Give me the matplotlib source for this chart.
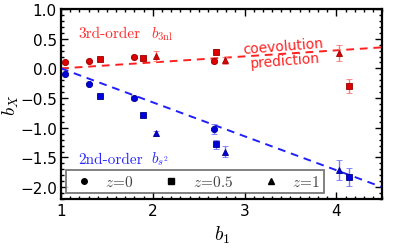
import matplotlib
matplotlib.use("Agg")
import matplotlib.pyplot as plt
from matplotlib.lines import Line2D
from matplotlib.ticker import MultipleLocator

plt.rcParams['mathtext.fontset'] = 'cm'

# --- data ---
# third-order bias b_3nl
r0_b1 = [1.04, 1.30, 1.79, 2.67]
r0_y = [0.10, 0.13, 0.20, 0.12]
r0_e = [0.02, 0.02, 0.02, 0.03]
r05_b1 = [1.42, 1.89, 2.69, 4.14]
r05_y = [0.16, 0.18, 0.28, -0.29]
r05_e = [0.02, 0.03, 0.04, 0.12]
r1_b1 = [2.03, 2.79, 4.03]
r1_y = [0.21, 0.14, 0.26]
r1_e = [0.08, 0.06, 0.14]
# second-order tidal bias b_s2
b0_b1 = [1.04, 1.30, 1.79, 2.67]
b0_y = [-0.09, -0.26, -0.50, -1.02]
b0_e = [0.02, 0.02, 0.03, 0.08]
b05_b1 = [1.42, 1.89, 2.69, 4.14]
b05_y = [-0.46, -0.78, -1.28, -1.83]
b05_e = [0.02, 0.03, 0.07, 0.15]
b1_b1 = [2.03, 2.79, 4.03]
b1_y = [-1.09, -1.40, -1.71]
b1_e = [0.04, 0.09, 0.17]
# coevolution prediction lines (endpoints)
line_b1 = [1.0, 4.5]
pred_b3nl = [0.0, 0.355]
pred_bs2 = [0.0, -2.0]

legend_labels = [r'$z\!=\!0$', r'$z\!=\!0.5$', r'$z\!=\!1$']

fig = plt.figure(figsize=(3.99, 2.51), dpi=100)
ax = fig.add_axes([0.153, 0.203, 0.805, 0.757])

red_face, red_edge, red_err = '#dd0000', '#990000', '#ff7777'
blue_face, blue_edge, blue_err = '#0000dd', '#000088', '#7777ff'

ax.plot(line_b1, pred_b3nl, ls=(0, (4, 3)), color='#ff2020', lw=1.4, zorder=2)
ax.plot(line_b1, pred_bs2, ls=(0, (4, 3)), color='#2020ff', lw=1.4, zorder=2)

for xs, ys, es, m, ms in [(r0_b1, r0_y, r0_e, 'o', 4.5), (r05_b1, r05_y, r05_e, 's', 4.5), (r1_b1, r1_y, r1_e, '^', 4.5)]:
    ax.errorbar(xs, ys, yerr=es, fmt=m, ms=ms, mfc=red_face, mec=red_edge, mew=0.6,
                ecolor=red_err, elinewidth=1.0, capsize=2, capthick=1.0, zorder=3)
for xs, ys, es, m, ms in [(b0_b1, b0_y, b0_e, 'o', 4.5), (b05_b1, b05_y, b05_e, 's', 4.5), (b1_b1, b1_y, b1_e, '^', 4.5)]:
    ax.errorbar(xs, ys, yerr=es, fmt=m, ms=ms, mfc=blue_face, mec=blue_edge, mew=0.6,
                ecolor=blue_err, elinewidth=1.0, capsize=2, capthick=1.0, zorder=3)

ax.set_xlim(1.0, 4.5)
ax.set_ylim(-2.2, 1.0)
ax.xaxis.set_major_locator(MultipleLocator(1))
ax.xaxis.set_minor_locator(MultipleLocator(0.1))
ax.yaxis.set_major_locator(MultipleLocator(0.5))
ax.yaxis.set_minor_locator(MultipleLocator(0.1))
ax.tick_params(which='both', direction='in', top=True, right=True, width=1.0)
ax.tick_params(which='major', length=5, labelsize=11, pad=3)
ax.tick_params(which='minor', length=2.5)
for s in ax.spines.values():
    s.set_linewidth(1.6)

ax.set_xlabel(r'$b_1$', fontsize=14, labelpad=4)
ax.set_ylabel(r'$b_X$', fontsize=13.5)
ax.yaxis.set_label_coords(-0.125, 0.5)

ax.text(1.185, 0.59, '3rd-order', family='cmr10', fontsize=11, color='#ff2a2a', va='center', ha='left')
ax.text(1.98, 0.59, r'$b_{3\mathrm{nl}}$', fontsize=11, color='#ff2a2a', va='center', ha='left')
ax.text(1.185, -1.52, '2nd-order', family='cmr10', fontsize=11, color='#2a2aff', va='center', ha='left')
ax.text(1.98, -1.52, r'$b_{s^2}$', fontsize=11, color='#2a2aff', va='center', ha='left')

ax.text(3.43, 0.26, 'coevolution\nprediction', fontsize=10, color='#ff2020', ha='center', va='center',
        rotation=4.5, linespacing=1.05, rotation_mode='anchor')

handles = [Line2D([], [], ls='none', marker=m, color='k', ms=4) for m in ['o', 's', '^']]
leg = ax.legend(handles, legend_labels, loc='lower left', bbox_to_anchor=(0.0156, 0.032),
                ncol=3, fontsize=11, frameon=True, fancybox=False,
                handlelength=1.8, handletextpad=0.5, columnspacing=1.55,
                borderaxespad=0, borderpad=0.25, labelcolor='#444444')
leg.get_frame().set_edgecolor('#555555')
leg.get_frame().set_linewidth(1.3)

fig.savefig('out.png', dpi=100)
